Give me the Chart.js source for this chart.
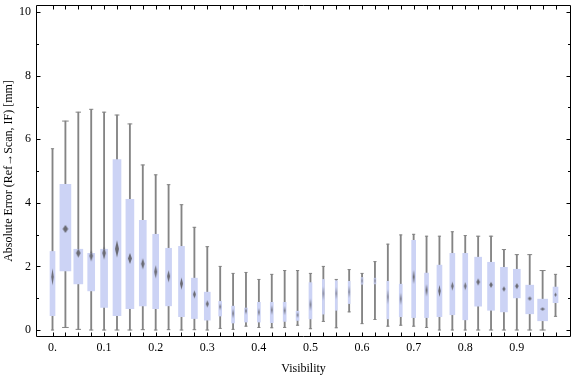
<!DOCTYPE html>
<html>
<head>
<meta charset="utf-8">
<script src="https://cdn.jsdelivr.net/npm/chart.js@4.4.1/dist/chart.umd.min.js"></script>
<style>
  html, body { margin: 0; padding: 0; background: #fff; }
</style>
</head>
<body>
<canvas id="chart" width="576" height="377"></canvas>
<script>
// data
const visibility = [0, 0.025, 0.05, 0.075, 0.1, 0.125, 0.15, 0.175, 0.2, 0.225,
  0.25, 0.275, 0.3, 0.325, 0.35, 0.375, 0.4, 0.425, 0.45, 0.475,
  0.5, 0.525, 0.55, 0.575, 0.6, 0.625, 0.65, 0.675, 0.7, 0.725,
  0.75, 0.775, 0.8, 0.825, 0.85, 0.875, 0.9, 0.925, 0.95, 0.975];
const whiskerLow = [0, 0.08, 0.02, 0, 0, 0, 0, 0.01, 0, 0.01,
  0, 0.01, 0, 0.05, 0.02, 0.12, 0.08, 0.07, 0.08, 0.15,
  0.04, 0.27, 0.07, 0.57, 0.20, 0.33, 0.12, 0.15, 0.12, 0.08,
  0, 0, 0, 0, 0, 0, 0, 0, 0, 0.43];
const q1 = [0.45, 1.86, 1.45, 1.23, 0.71, 0.45, 0.67, 0.76, 0.67, 0.76,
  0.42, 0.36, 0.31, 0.44, 0.22, 0.25, 0.25, 0.23, 0.27, 0.30,
  0.35, 0.50, 0.62, 0.83, 1.44, 1.45, 0.35, 0.42, 0.39, 0.39,
  0.42, 0.48, 0.32, 0.75, 0.62, 0.57, 1.01, 0.51, 0.29, 0.86];
const median = [1.67, 3.18, 2.42, 2.33, 2.42, 2.55, 2.25, 2.08, 1.83, 1.69,
  1.46, 1.12, 0.82, 0.73, 0.52, 0.60, 0.56, 0.63, 0.61, 0.47,
  0.80, 1.15, 1.15, 1.20, 1.55, 1.55, 1.04, 0.98, 1.67, 1.25,
  1.23, 1.38, 1.38, 1.51, 1.42, 1.29, 1.38, 0.99, 0.66, 1.11];
const q3 = [2.47, 4.58, 2.54, 2.41, 2.54, 5.36, 4.11, 3.45, 3.01, 2.57,
  2.63, 1.63, 1.19, 0.90, 0.75, 0.69, 0.87, 0.87, 0.87, 0.59,
  1.49, 1.59, 1.55, 1.53, 1.65, 1.63, 1.53, 1.44, 2.82, 1.79,
  2.04, 2.41, 2.41, 2.29, 2.13, 1.97, 1.91, 1.41, 0.97, 1.35];
const whiskerHigh = [5.70, 6.57, 6.85, 6.94, 6.85, 6.76, 6.48, 5.19, 4.88, 4.57,
  3.94, 3.23, 2.62, 2.00, 1.78, 1.81, 1.59, 1.75, 1.87, 1.87,
  1.78, 2.00, 1.59, 1.90, 1.78, 2.15, 2.70, 2.99, 3.01, 2.95,
  2.95, 3.09, 2.97, 2.95, 2.95, 2.53, 2.37, 2.37, 1.87, 1.75];

const yTicks = [0, 2, 4, 6, 8, 10];
const xTickLabels = [0, 0.1, 0.2, 0.3, 0.4, 0.5, 0.6, 0.7, 0.8, 0.9];

// styling: box widths and median marker heights in px (they vary in the picture)
const boxPx = [5, 11, 9, 7, 7, 8, 8, 7, 6, 6, 6, 6, 6, 3, 3, 3, 3, 3, 3, 3,
  3, 2, 2, 2, 2, 2, 2, 3, 4, 4, 5, 5, 5, 7, 7, 7, 7, 8, 10, 5];
const medPx = [17, 8, 9, 11, 13, 17, 11, 11, 13, 12, 12, 8, 7, 7, 10, 7, 8, 10, 9, 6,
  12, 14, 12, 12, 8, 8, 15, 12, 14, 12, 12, 9, 8, 7, 6, 5, 6, 4, 3, 4];

const BOX_COLOR = 'rgb(204,211,245)';
const WHISKER_COLOR = 'rgb(132,132,132)';

Chart.defaults.font.family = '"Liberation Serif", "DejaVu Serif", serif';
Chart.defaults.font.size = 12;
Chart.defaults.color = '#000';

function diamond(w, h) {
  const pad = 2;
  const c = document.createElement('canvas');
  c.width = Math.ceil(w) + pad * 2;
  c.height = Math.ceil(h) + pad * 2;
  const g = c.getContext('2d');
  g.filter = 'blur(0.6px)';
  g.fillStyle = 'rgba(100,100,106,0.95)';
  const cx = c.width / 2, cy = c.height / 2;
  g.beginPath();
  g.moveTo(cx, cy - h / 2);
  g.lineTo(cx + w / 2, cy);
  g.lineTo(cx, cy + h / 2);
  g.lineTo(cx - w / 2, cy);
  g.closePath();
  g.fill();
  return c;
}
const diamonds = visibility.map((v, i) => diamond(Math.max(1.2, boxPx[i] * 0.5), medPx[i]));

// boxes: one dataset per width, since barThickness is per dataset
const boxSets = [];
[...new Set(boxPx)].forEach(w => {
  const pts = [];
  visibility.forEach((v, i) => {
    if (boxPx[i] === w) pts.push({x: v, y: [q1[i], q3[i]]});
  });
  boxSets.push({
    type: 'bar', data: pts, barThickness: w, grouped: false,
    backgroundColor: BOX_COLOR, borderWidth: 0, order: 1
  });
});

const capPts = [];
const capR = [];
visibility.forEach((v, i) => {
  capPts.push({x: v, y: whiskerHigh[i]});
  capR.push(Math.max(1.6, boxPx[i] * 0.3));
  capPts.push({x: v, y: whiskerLow[i]});
  capR.push(Math.max(1.6, boxPx[i] * 0.3));
});

const framePlugin = {
  id: 'frame',
  afterDatasetsDraw(chart) {
    const {ctx, chartArea: a, scales: {x, y}} = chart;
    const L = Math.round(a.left) + 0.5, R = Math.round(a.right) - 0.5;
    const T = Math.round(a.top) + 0.5, B = Math.round(a.bottom) - 0.5;
    ctx.save();
    ctx.strokeStyle = '#000';
    ctx.lineWidth = 1;
    ctx.beginPath();
    ctx.rect(L, T, R - L, B - T);
    x.ticks.forEach(t => {
      if (t.value < -1e-9 || t.value > 0.976) return;
      const px = Math.round(x.getPixelForValue(t.value)) + 0.5;
      ctx.moveTo(px, B); ctx.lineTo(px, B - 4);
      ctx.moveTo(px, T); ctx.lineTo(px, T + 4);
    });
    y.ticks.forEach(t => {
      const py = Math.round(y.getPixelForValue(t.value)) + 0.5;
      const len = yTicks.includes(t.value) ? 4 : 2.5;
      ctx.moveTo(L, py); ctx.lineTo(L + len, py);
      ctx.moveTo(R, py); ctx.lineTo(R - len, py);
    });
    ctx.stroke();
    ctx.restore();
  }
};

new Chart(document.getElementById('chart'), {
  type: 'bar',
  data: {
    datasets: [
      {
        type: 'scatter', data: visibility.map((v, i) => ({x: v, y: median[i]})),
        pointStyle: c => diamonds[c.dataIndex], order: 0
      },
      ...boxSets,
      {
        type: 'scatter', data: capPts, pointStyle: 'line',
        pointRadius: c => capR[c.dataIndex], borderColor: WHISKER_COLOR,
        borderWidth: 1, order: 2
      },
      {
        type: 'bar', data: visibility.map((v, i) => ({x: v, y: [whiskerLow[i], whiskerHigh[i]]})),
        barThickness: 1.2, grouped: false, backgroundColor: WHISKER_COLOR,
        borderWidth: 0, order: 3
      }
    ]
  },
  options: {
    responsive: false,
    animation: false,
    layout: {padding: {top: 4, right: 2, left: 0, bottom: 0}},
    plugins: {legend: {display: false}, tooltip: {enabled: false}},
    scales: {
      x: {
        type: 'linear', offset: false, min: -0.032, max: 1.005,
        grid: {display: false, drawTicks: false},
        border: {display: false},
        ticks: {
          stepSize: 0.025, includeBounds: false, autoSkip: false,
          maxRotation: 0, padding: 4,
          callback: v => {
            const hit = xTickLabels.find(t => Math.abs(t - v) < 1e-6);
            if (hit === undefined) return '';
            return hit === 0 ? '0.' : hit.toFixed(1);
          }
        },
        title: {display: true, text: 'Visibility', padding: {top: 0, bottom: 1}},
        afterFit: s => { s.height = 40; s.paddingLeft = 0; s.paddingRight = 0; }
      },
      y: {
        type: 'linear', min: -0.22, max: 10.22,
        grid: {display: false, drawTicks: false},
        border: {display: false},
        ticks: {
          stepSize: 0.5, includeBounds: false, padding: 5,
          callback: v => yTicks.includes(v) ? String(v) : ''
        },
        title: {display: true, text: 'Absolute Error (Ref\u2192Scan, IF) [mm]', padding: {top: 2, bottom: 0}},
        afterFit: s => { s.width = 36; s.paddingTop = 0; s.paddingBottom = 0; }
      }
    }
  },
  plugins: [framePlugin]
});
</script>
</body>
</html>
